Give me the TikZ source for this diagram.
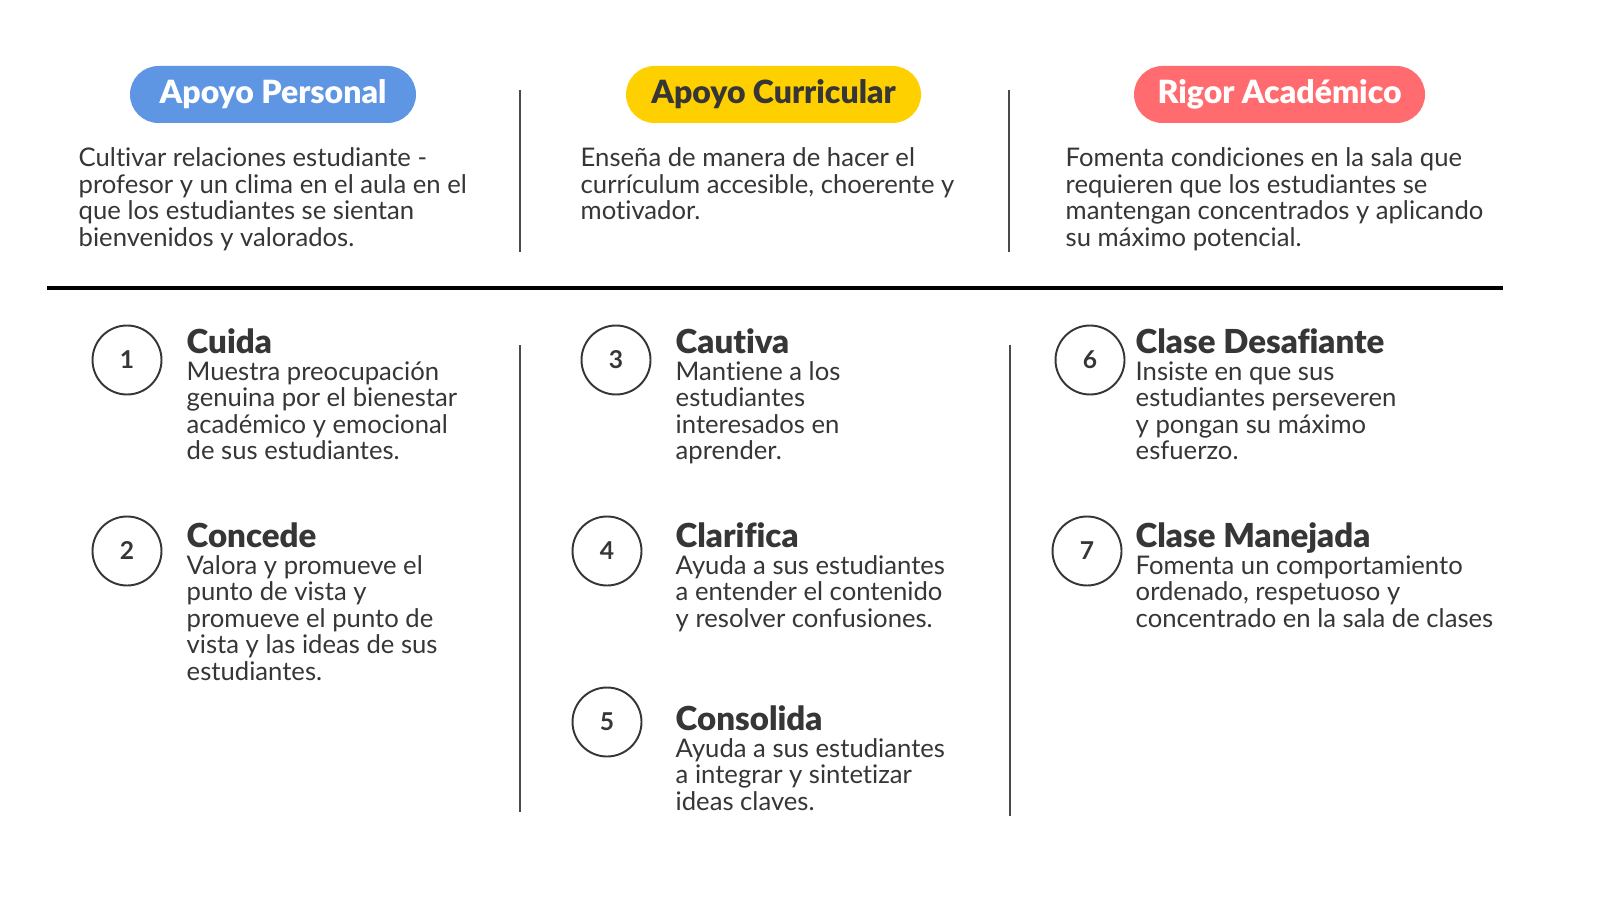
\documentclass[tikz,border=0pt]{standalone}
\usepackage{fontspec}
\setmainfont{Lato}[Ligatures=NoCommon]
\newfontfamily\heavyfont{Lato Black}[Ligatures=NoCommon]
\usetikzlibrary{positioning}
\definecolor{txt}{HTML}{363636}
\definecolor{rule}{HTML}{4A4A4A}
\definecolor{azul}{HTML}{5E96E3}
\definecolor{amarillo}{HTML}{FFD000}
\definecolor{rojo}{HTML}{FF6B6E}
\newcommand{\head}[1]{{\fontsize{9.4}{10}\selectfont\heavyfont #1}}
\tikzset{
	pill/.style={rounded corners=0.285cm, minimum height=0.57cm, inner xsep=0, font=\fontsize{9.1}{10}\selectfont\heavyfont},
	desc/.style={anchor=north west, inner sep=0, align=left, text=txt, font=\fontsize{7.3}{7.57}\selectfont},
	item/.style={anchor=north west, inner sep=0, align=left, text=txt, font=\fontsize{7.3}{7.57}\selectfont},
	num/.style={circle, draw=txt, line width=0.55pt, minimum size=0.69cm, inner sep=0, text=txt, font=\fontsize{7}{7}\selectfont\bfseries},
	divider/.style={draw=rule, line width=0.7pt}
}
\begin{document}
\begin{tikzpicture}
			%%%%% START %%%%%
			\useasboundingbox[fill=white] (0, 0) rectangle (16, 9);
			
			\node[pill, fill=azul, text=white, minimum width=2.86cm] (p1) at (2.73, 8.055) {Apoyo Personal};
			\node[pill, fill=amarillo, text=txt, minimum width=2.95cm] (p2) at (7.735, 8.055) {Apoyo Curricular};
			\node[pill, fill=rojo, text=white, minimum width=2.91cm] (p3) at (12.795, 8.055) {Rigor Académico};
			
			\node[desc] (d1) at (0.78, 7.53) {Cultivar relaciones estudiante -\\profesor y un clima en el aula en el\\que los estudiantes se sientan\\bienvenidos y valorados.};
			\node[desc] (d2) at (5.80, 7.53) {Enseña de manera de hacer el\\currículum accesible, choerente y\\motivador.};
			\node[desc] (d3) at (10.65, 7.53) {Fomenta condiciones en la sala que\\requieren que los estudiantes se\\mantengan concentrados y aplicando\\su máximo potencial.};
			
			\draw[divider] (5.20, 8.10) -- (5.20, 6.48);
			\draw[divider] (10.09, 8.10) -- (10.09, 6.48);
			
			\draw[line width=1.4pt, color=black] (0.47, 6.12) -- (15.03, 6.12);
			
			\draw[divider] (5.20, 5.55) -- (5.20, 0.88);
			\draw[divider] (10.10, 5.55) -- (10.10, 0.84);
			
			% personal
			\node[num] (n1) at (1.27, 5.40) {1};
			\node[item] (i1) at (1.86, 5.72) {\head{Cuida}\\Muestra preocupación\\genuina por el bienestar\\académico y emocional\\de sus estudiantes.};
			\node[num] (n2) at (1.27, 3.49) {2};
			\node[item] (i2) at (1.86, 3.78) {\head{Concede}\\Valora y promueve el\\punto de vista y\\promueve el punto de\\vista y las ideas de sus\\estudiantes.};
			
			% curricular
			\node[num] (n3) at (6.16, 5.40) {3};
			\node[item] (i3) at (6.75, 5.72) {\head{Cautiva}\\Mantiene a los\\estudiantes\\interesados en\\aprender.};
			\node[num] (n4) at (6.07, 3.49) {4};
			\node[item] (i4) at (6.75, 3.78) {\head{Clarifica}\\Ayuda a sus estudiantes\\a entender el contenido\\y resolver confusiones.};
			\node[num] (n5) at (6.07, 1.78) {5};
			\node[item] (i5) at (6.75, 1.95) {\head{Consolida}\\Ayuda a sus estudiantes\\a integrar y sintetizar\\ideas claves.};
			
			% rigor
			\node[num] (n6) at (10.90, 5.40) {6};
			\node[item] (i6) at (11.35, 5.72) {\head{Clase Desafiante}\\Insiste en que sus\\estudiantes perseveren\\y pongan su máximo\\esfuerzo.};
			\node[num] (n7) at (10.87, 3.49) {7};
			\node[item] (i7) at (11.35, 3.78) {\head{Clase Manejada}\\Fomenta un comportamiento\\ordenado, respetuoso y\\concentrado en la sala de clases};
			
			%%%%% END %%%%%
\end{tikzpicture}
\end{document}
